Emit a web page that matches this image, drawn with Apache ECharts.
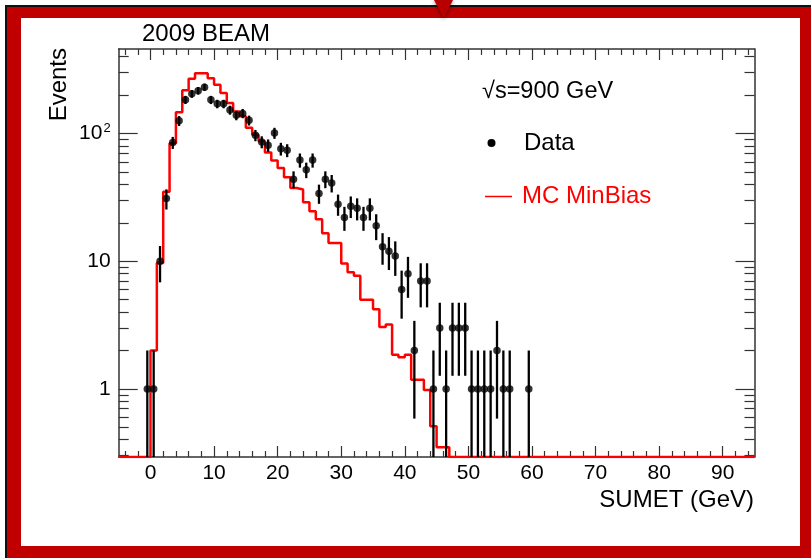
<!DOCTYPE html>
<html><head><meta charset="utf-8">
<script src="https://cdn.jsdelivr.net/npm/echarts@6/dist/echarts.min.js"></script>
<style>html,body{margin:0;padding:0;background:#fff}#c{width:811px;height:558px}</style>
</head><body><div id="c"></div>
<script>
// ---- axis definitions ----
const X_MIN = -5, X_MAX = 95;
const Y_MIN = 0.293, Y_MAX = 460;
const xTickLabels = [0, 10, 20, 30, 40, 50, 60, 70, 80, 90];
const yTickLabels = [1, 10, 100];

// ---- Data (events per 1 GeV bin, bin centres) ----
const dataCenters = [-0.5, 0.5, 1.5, 2.5, 3.5, 4.5, 5.5, 6.5, 7.5, 8.5, 9.5, 10.5, 11.5, 12.5, 13.5, 14.5,
  15.5, 16.5, 17.5, 18.5, 19.5, 20.5, 21.5, 22.5, 23.5, 24.5, 25.5, 26.5, 27.5, 28.5, 29.5, 30.5,
  31.5, 32.5, 33.5, 34.5, 35.5, 36.5, 37.5, 38.5, 39.5, 40.5, 41.5, 42.5, 43.5, 44.5, 45.5, 46.5,
  47.5, 48.5, 49.5, 50.5, 51.5, 52.5, 53.5, 54.5, 55.5, 56.5, 59.5];
const dataCounts = [1, 1, 10, 31, 85, 126, 184, 205, 217, 231, 184, 171, 171, 153, 139, 144,
  127, 97, 86, 81, 101, 76, 74, 44, 62, 52, 62, 34, 44, 41, 28, 22,
  27, 26, 22, 26, 19, 13, 12, 11, 6, 8, 2, 7, 7, 1, 3, 1,
  3, 3, 3, 1, 1, 1, 1, 2, 1, 1, 1];

// ---- MC MinBias histogram (bin centres, 1 GeV bins) ----
const mcCenters = [-0.5, 0.5, 1.5, 2.5, 3.5, 4.5, 5.5, 6.5, 7.5, 8.5, 9.5, 10.5, 11.5, 12.5, 13.5, 14.5,
  15.5, 16.5, 17.5, 18.5, 19.5, 20.5, 21.5, 22.5, 23.5, 24.5, 25.5, 26.5, 27.5, 28.5, 29.5, 30.5,
  31.5, 32.5, 33.5, 34.5, 35.5, 36.5, 37.5, 38.5, 39.5, 40.5, 41.5, 42.5, 43.5, 44.5, 45.5, 46.5];
const mcValues = [0, 2.0, 9.7, 35, 84, 147, 219, 269, 297, 297, 272, 241, 208, 174, 149, 137,
  111, 98, 87, 71, 61.5, 53.7, 45.5, 37.5, 36.5, 29, 24.6, 21.3, 16.6, 13.9, 13.9, 9.6,
  8.2, 7.7, 5.0, 5.0, 4.2, 3.05, 3.2, 1.85, 1.77, 1.85, 1.18, 1.18, 0.98, 0.51, 0.35, 0.35];
const BIN_W = 1;

// ---- derived tick sets ----
const xMinorTicks = [];
for (let v = -4; v <= 94; v += 2) if (v % 10 !== 0) xMinorTicks.push(v);
const yMinorTicks = [];
[0.1, 1, 10, 100].forEach(d => { for (let k = 2; k <= 9; k++) { const v = +(k * d).toPrecision(3); if (v >= Y_MIN && v <= Y_MAX) yMinorTicks.push(v); } });

const clampY = v => Math.min(Math.max(v, Y_MIN), Y_MAX);

// MC step outline built from bin edges
const mcLine = [[X_MIN, Y_MIN]];
mcCenters.forEach((c, i) => {
  const v = clampY(mcValues[i]);
  mcLine.push([c - BIN_W / 2, v]);
  mcLine.push([c + BIN_W / 2, v]);
});
const lastEdge = mcCenters[mcCenters.length - 1] + BIN_W / 2;
mcLine.push([lastEdge, Y_MIN]);
mcLine.push([X_MAX, Y_MIN]);

const dataPts = dataCenters.map((c, i) => [c, dataCounts[i]]);

const FONT = 'Liberation Sans, Arial, Helvetica, sans-serif';
const AX = '#333';

function xAxisDef(pos, major) {
  return {
    type: 'value', min: X_MIN, max: X_MAX, position: pos,
    splitLine: { show: false },
    axisLine: { show: major, onZero: false, lineStyle: { color: AX, width: 1.5 } },
    axisTick: { show: true, inside: true, length: major ? 11 : 6, customValues: major ? xTickLabels : xMinorTicks, lineStyle: { color: AX, width: 1.2 } },
    axisLabel: { show: major && pos === 'bottom', customValues: xTickLabels, fontSize: 21, color: '#000', fontFamily: FONT, margin: 6 }
  };
}
function yAxisDef(pos, major) {
  return {
    type: 'log', logBase: 10, min: Y_MIN, max: Y_MAX, position: pos,
    splitLine: { show: false },
    axisLine: { show: major, onZero: false, lineStyle: { color: AX, width: 1.5 } },
    axisTick: { show: true, inside: true, length: major ? 19 : 10, customValues: major ? yTickLabels : yMinorTicks, lineStyle: { color: AX, width: 1.2 } },
    axisLabel: {
      show: major && pos === 'left', customValues: yTickLabels, margin: 8,
      fontSize: 21, color: '#000', fontFamily: FONT,
      formatter: v => { const e = Math.round(Math.log10(v)); return e < 2 ? String(Math.round(v)) : '10{sup|' + e + '}'; },
      rich: { sup: { fontSize: 13, fontFamily: FONT, color: '#000', padding: [0, 0, 11, 1] } }
    }
  };
}

const chart = echarts.init(document.getElementById('c'), null, { renderer: 'canvas' });
chart.setOption({
  animation: false,
  backgroundColor: '#fff',
  grid: { left: 118.7, right: 56.5, top: 49, bottom: 101, containLabel: false },
  xAxis: [xAxisDef('bottom', true), xAxisDef('bottom', false), xAxisDef('top', true), xAxisDef('top', false)],
  yAxis: [yAxisDef('left', true), yAxisDef('left', false), yAxisDef('right', true), yAxisDef('right', false)],
  series: [
    {
      name: 'MC MinBias', type: 'line', data: mcLine, showSymbol: false, symbol: 'none',
      lineStyle: { color: '#ff0000', width: 2.5 }, clip: true, z: 3, silent: true
    },
    {
      name: 'Data errors', type: 'custom', data: dataPts, z: 4, silent: true, clip: true,
      renderItem: (params, api) => {
        const x = api.value(0), n = api.value(1), e = Math.sqrt(n);
        const p1 = api.coord([x, clampY(n + e)]);
        const p2 = api.coord([x, clampY(n - e)]);
        return { type: 'line', shape: { x1: p1[0], y1: p1[1], x2: p2[0], y2: p2[1] }, style: { stroke: '#000', lineWidth: 2.3 } };
      }
    },
    {
      name: 'Data', type: 'scatter', data: dataPts, symbol: 'circle', symbolSize: 7.5,
      itemStyle: { color: '#000' }, z: 5, silent: true
    }
  ],
  graphic: { elements: [
    { type: 'rect', z: -10, shape: { x: 6, y: 6, width: 811, height: 560 }, style: { fill: '#c00000', stroke: '#111', lineWidth: 2 } },
    { type: 'rect', z: -9, shape: { x: 21, y: 18, width: 779, height: 528 }, style: { fill: '#ffffff' } },
    { type: 'polygon', z: -8, shape: { points: [[434, 0], [453, 0], [443.5, 18]] }, style: { fill: '#b80000', shadowBlur: 4, shadowColor: 'rgba(0,0,0,0.5)', shadowOffsetY: 1 } },
    { type: 'text', x: 142, y: 34, style: { text: '2009 BEAM', font: '24px ' + FONT, fill: '#000', textVerticalAlign: 'middle' } },
    { type: 'text', x: 59, y: 48, rotation: Math.PI / 2, style: { text: 'Events', font: '24px ' + FONT, fill: '#000', textAlign: 'right', textVerticalAlign: 'middle' } },
    { type: 'text', x: 754, y: 500, style: { text: 'SUMET (GeV)', font: '24px ' + FONT, fill: '#000', textAlign: 'right', textVerticalAlign: 'middle' } },
    { type: 'text', x: 482, y: 92, style: { text: '√s=900 GeV', font: '23.5px ' + FONT, fill: '#000', textVerticalAlign: 'middle' } },
    { type: 'circle', shape: { cx: 491.5, cy: 143, r: 4 }, style: { fill: '#000' } },
    { type: 'text', x: 524, y: 143, style: { text: 'Data', font: '24px ' + FONT, fill: '#000', textVerticalAlign: 'middle' } },
    { type: 'line', shape: { x1: 485, y1: 196.5, x2: 512, y2: 196.5 }, style: { stroke: '#ff0000', lineWidth: 1.5 } },
    { type: 'text', x: 522, y: 196, style: { text: 'MC MinBias', font: '24px ' + FONT, fill: '#ff0000', textVerticalAlign: 'middle' } }
  ] }
});
</script>
</body></html>
